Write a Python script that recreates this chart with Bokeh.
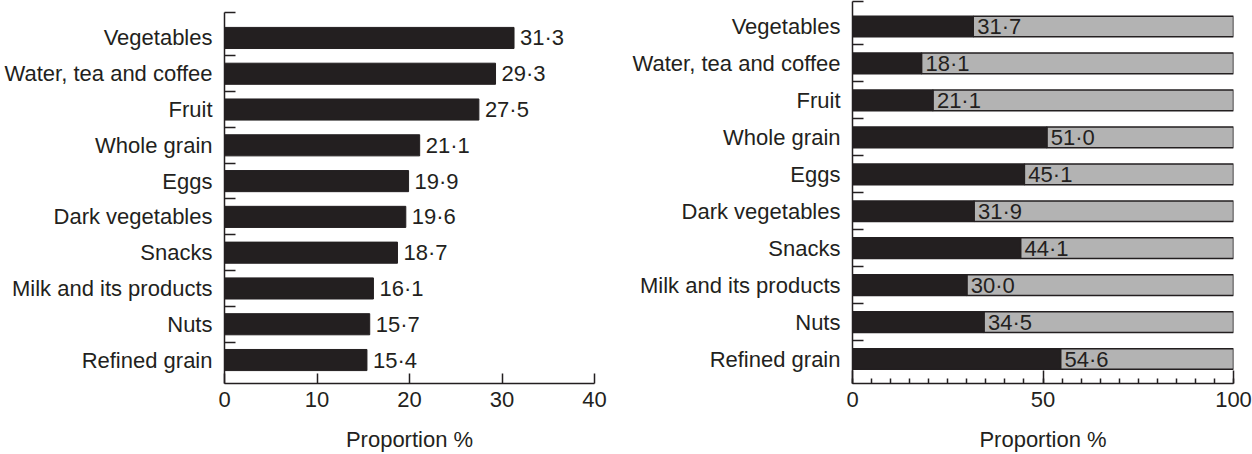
from bokeh.plotting import figure
from bokeh.models import Range1d, FixedTicker, ColumnDataSource
from bokeh.layouts import row
from bokeh.embed import file_html
from bokeh.resources import INLINE
from bokeh.core.properties import value

categories = ["Vegetables", "Water, tea and coffee", "Fruit", "Whole grain", "Eggs",
              "Dark vegetables", "Snacks", "Milk and its products", "Nuts", "Refined grain"]
left_values = [31.3, 29.3, 27.5, 21.1, 19.9, 19.6, 18.7, 16.1, 15.7, 15.4]
right_values = [31.7, 18.1, 21.1, 51.0, 45.1, 31.9, 44.1, 30.0, 34.5, 54.6]
left_ticks = [0, 10, 20, 30, 40]
right_ticks = [0, 50, 100]
right_minor = list(range(0, 101, 5))
right_total = 100
x_label = "Proportion %"

FONT = "Liberation Sans"
INK = "#231f20"
GREY = "#b3b3b3"
FS = "22px"

n = len(categories)
pos = [n - 1 - i for i in range(n)]          # first category at the top
boundaries = [k + 0.5 for k in range(n - 1)]
labels = {p: c for p, c in zip(pos, categories)}


def fmt(v):
    return f"{v:.1f}".replace(".", "\u00b7")


def style(p, top_end):
    p.outline_line_color = None
    p.xgrid.visible = False
    p.ygrid.visible = False
    for ax in (p.xaxis[0], p.yaxis[0]):
        ax.axis_line_color = INK
        ax.axis_line_width = 1.5
        ax.major_tick_line_color = INK
        ax.major_tick_line_width = 1.5
        ax.minor_tick_line_color = INK
        ax.minor_tick_line_width = 1.5
        ax.major_tick_out = 0
        ax.minor_tick_out = 0
        ax.major_label_text_font = FONT
        ax.major_label_text_font_size = FS
        ax.major_label_text_color = INK
    ya = p.yaxis[0]
    ya.ticker = FixedTicker(ticks=sorted(pos), minor_ticks=boundaries + [top_end])
    ya.major_label_overrides = labels
    ya.major_tick_in = 0
    ya.minor_tick_in = 11
    ya.major_label_standoff = 12
    xa = p.xaxis[0]
    xa.axis_label = x_label
    xa.axis_label_text_font = FONT
    xa.axis_label_text_font_size = FS
    xa.axis_label_text_font_style = "normal"
    xa.axis_label_text_color = INK
    xa.major_label_standoff = 8
    xa.axis_label_standoff = 17


# Left chart (its y axis line stops a little below the frame top)
src1 = ColumnDataSource(dict(y=pos, v=left_values, lab=[fmt(v) for v in left_values]))
p1 = figure(width=620, height=454, x_range=Range1d(0, 40), y_range=Range1d(-0.656, 10.019),
            min_border_left=224, min_border_right=26, min_border_top=1, min_border_bottom=71,
            output_backend="svg", toolbar_location=None)
p1.hbar(y="y", left=0, right="v", height=0.59, source=src1,
        fill_color=INK, line_color=INK, line_width=1)
p1.text(x="v", y="y", text="lab", source=src1, x_offset=6, text_align="left",
        text_baseline="middle", text_font=value(FONT), text_font_size=FS, text_color=INK)
style(p1, 9.705)
p1.yaxis[0].bounds = (-0.656, 9.712)
p1.xaxis[0].ticker = FixedTicker(ticks=left_ticks)
p1.xaxis[0].major_tick_in = 10

# Right chart
src2 = ColumnDataSource(dict(y=pos, v=right_values, tot=[right_total] * n,
                             lab=[fmt(v) for v in right_values]))
p2 = figure(width=632, height=454, x_range=Range1d(0, 100), y_range=Range1d(-0.663, 9.677),
            min_border_left=232, min_border_right=19, min_border_top=1, min_border_bottom=71,
            output_backend="svg", toolbar_location=None)
p2.hbar(y="y", left="v", right="tot", height=0.56, source=src2,
        fill_color=GREY, line_color=INK, line_width=1.5)
p2.hbar(y="y", left=0, right="v", height=0.56, source=src2,
        fill_color=INK, line_color=INK, line_width=1.5)
p2.text(x="v", y="y", text="lab", source=src2, x_offset=4, text_align="left",
        text_baseline="middle", text_font=value(FONT), text_font_size=FS, text_color=INK)
style(p2, 9.67)
p2.xaxis[0].ticker = FixedTicker(ticks=right_ticks, minor_ticks=right_minor)
p2.xaxis[0].major_tick_in = 13
p2.xaxis[0].minor_tick_in = 5

layout = row(p1, p2)
open("out.html", "w").write(file_html(layout, INLINE))
